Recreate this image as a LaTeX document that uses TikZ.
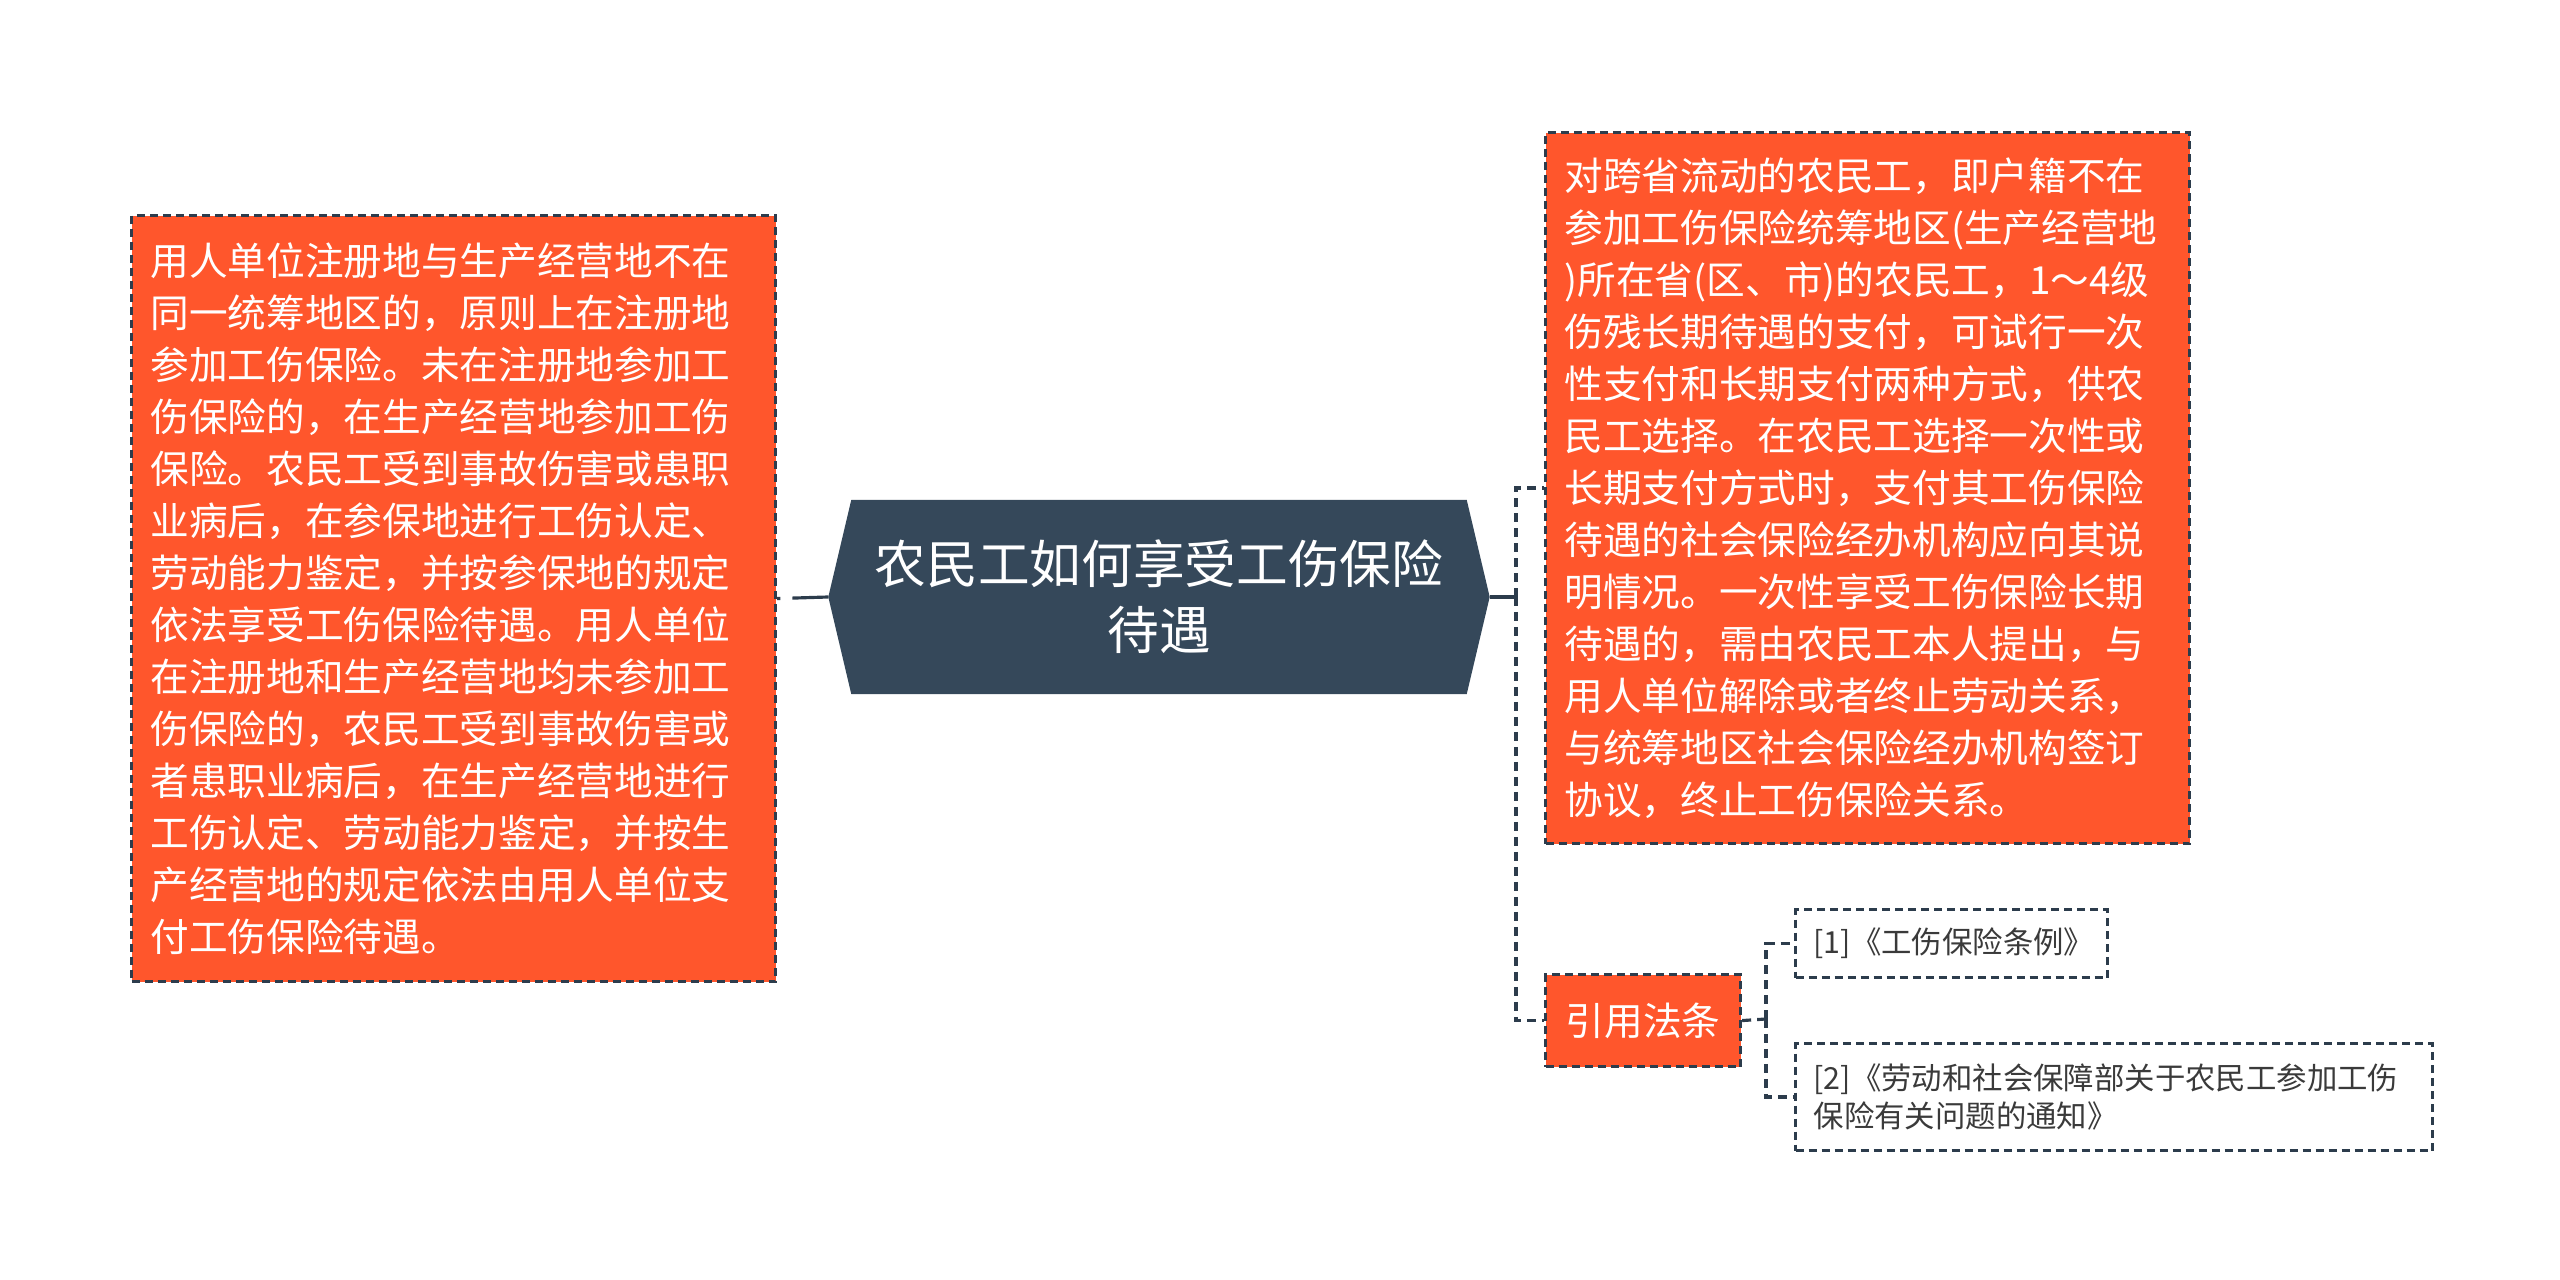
\documentclass[tikz,border=0pt]{standalone}
\usepackage{fontspec}
\setmainfont{Noto Sans CJK SC}
\usetikzlibrary{positioning,calc,backgrounds}
\definecolor{orange}{RGB}{255,86,44}
\definecolor{slate}{RGB}{53,72,90}
\definecolor{ink}{RGB}{44,60,76}
\definecolor{grey}{RGB}{58,58,58}

\begin{document}
\begin{tikzpicture}[x=1cm, y=-1cm, font=\fontsize{11}{14.8}\selectfont,
  box/.style={draw=ink, dash pattern=on 0.08cm off 0.05cm, line width=0.9pt, fill=orange, text=white, inner xsep=0.19cm, inner ysep=0pt, anchor=north west},
  ref/.style={draw=ink, dash pattern=on 0.08cm off 0.05cm, line width=0.9pt, text=grey, inner xsep=0.18cm, inner ysep=0pt, anchor=north west, align=left, font=\fontsize{8.65}{11}\selectfont},
  link/.style={draw=ink, line width=0.9pt, dash pattern=on 0.09cm off 0.06cm}]
\useasboundingbox (0,0) rectangle (25.6,12.8);
\node[text=white, align=center, minimum width=6.14cm, minimum height=1.93cm, font=\fontsize{14.7}{18.8}\selectfont] (root) at (11.59,5.97) {农民工如何享受工伤保险\\待遇};
\begin{scope}[on background layer]
\fill[slate] (root.north west) -- (root.north east) -- ([xshift=0.23cm]root.east) -- (root.south east) -- (root.south west) -- ([xshift=-0.23cm]root.west) -- cycle;
\end{scope}
\coordinate (rootL) at ([xshift=-0.23cm]root.west);
\coordinate (rootR) at ([xshift=0.23cm]root.east);
\node[box, minimum height=7.66cm, text width=6.06cm, align=left] (rule) at (1.30,2.14) {用人单位注册地与生产经营地不在\\同一统筹地区的，原则上在注册地\\参加工伤保险。未在注册地参加工\\伤保险的，在生产经营地参加工伤\\保险。农民工受到事故伤害或患职\\业病后，在参保地进行工伤认定、\\劳动能力鉴定，并按参保地的规定\\依法享受工伤保险待遇。用人单位\\在注册地和生产经营地均未参加工\\伤保险的，农民工受到事故伤害或\\者患职业病后，在生产经营地进行\\工伤认定、劳动能力鉴定，并按生\\产经营地的规定依法由用人单位支\\付工伤保险待遇。};
\node[box, minimum height=7.11cm, text width=6.06cm, align=left] (detail) at (15.44,1.31) {对跨省流动的农民工，即户籍不在\\参加工伤保险统筹地区(生产经营地\\)所在省(区、市)的农民工，1～4级\\伤残长期待遇的支付，可试行一次\\性支付和长期支付两种方式，供农\\民工选择。在农民工选择一次性或\\长期支付方式时，支付其工伤保险\\待遇的社会保险经办机构应向其说\\明情况。一次性享受工伤保险长期\\待遇的，需由农民工本人提出，与\\用人单位解除或者终止劳动关系，\\与统筹地区社会保险经办机构签订\\协议，终止工伤保险关系。};
\node[box, minimum width=1.95cm, minimum height=0.92cm, align=center] (cite) at (15.44,9.73) {引用法条};
\node[ref, minimum height=0.68cm, text width=2.76cm] (ref1) at (17.94,9.08) {[1]《工伤保险条例》};
\node[ref, minimum height=1.07cm, text width=6.01cm] (ref2) at (17.94,10.42) {[2]《劳动和社会保障部关于农民工参加工伤\\保险有关问题的通知》};
\coordinate (spine) at (15.16,5.97);
\coordinate (citespine) at (17.66,10.19);
\draw[link, dash pattern=on 0.36cm off 0.12cm] (rootL) -- (rule.east);
\draw[ink, line width=0.9pt] (rootR) -- (spine);
\draw[link] (spine) |- (detail.west);
\draw[link] (spine) |- (cite.west);
\draw[link] (cite.east) -- (citespine);
\draw[link] (citespine) |- (ref1.west);
\draw[link] (citespine) |- (ref2.west);
\end{tikzpicture}
\end{document}
